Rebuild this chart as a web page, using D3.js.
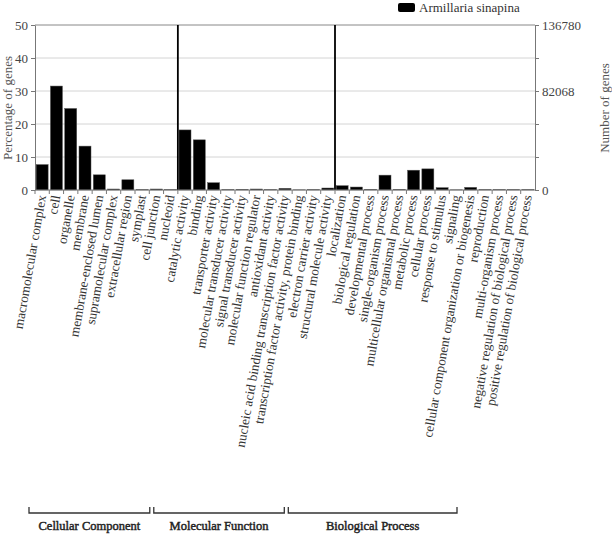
<!DOCTYPE html>
<html>
<head>
<meta charset="utf-8">
<script src="https://cdn.jsdelivr.net/npm/d3@7"></script>
<style>
  body { margin: 0; background: #fff; }
  text { font-family: "Liberation Serif", "DejaVu Serif", serif; fill: #333; }
</style>
</head>
<body>
<div id="chart"></div>
<script>
// GO categories, grouped
var ccTerms = ["macromolecular complex", "cell", "organelle", "membrane", "membrane-enclosed lumen",
  "supramolecular complex", "extracellular region", "symplast", "cell junction", "nucleoid"];
var mfTerms = ["catalytic activity", "binding", "transporter activity", "molecular transducer activity",
  "signal transducer activity", "molecular function regulator", "antioxidant activity",
  "nucleic acid binding transcription factor activity", "transcription factor activity, protein binding",
  "electron carrier activity", "structural molecule activity"];
var bpTerms = ["localization", "biological regulation", "developmental process", "single-organism process",
  "multicellular organismal process", "metabolic process", "cellular process", "response to stimulus",
  "signaling", "cellular component organization or biogenesis", "reproduction", "multi-organism process",
  "negative regulation of biological process", "positive regulation of biological process"];

// percentage of genes
var ccValues = [7.7, 31.5, 24.7, 13.3, 4.6, 0.3, 3.1, 0.1, 0.3, 0.1];
var mfValues = [18.2, 15.2, 2.2, 0.1, 0.2, 0.3, 0.1, 0.5, 0.05, 0.1, 0.6];
var bpValues = [1.3, 0.9, 0.2, 4.5, 0.2, 6.0, 6.4, 0.7, 0.05, 0.8, 0.1, 0.1, 0.1, 0.1];

var groupNames = ["Cellular Component", "Molecular Function", "Biological Process"];
var leftTicks = [0, 10, 20, 30, 40, 50];
var rightMax = 136780;
var rightTicks = [0, 27356, 54712, 82068, 109424, 136780];
var rightLabels = [0, 82068, 136780];
var seriesName = "Armillaria sinapina";

var categories = ccTerms.concat(mfTerms, bpTerms);
var values = ccValues.concat(mfValues, bpValues);
var data = categories.map(function(c, i) { return {term: c, value: values[i]}; });

var width = 612, height = 544;
var plotLeft = 35, plotRight = 535, plotTop = 25, plotBottom = 190;
var font = "Liberation Serif";

var svg = d3.select("#chart").append("svg")
  .attr("width", width)
  .attr("height", height);

var x = d3.scaleBand().domain(categories).range([plotLeft, plotRight]).paddingInner(0.16).paddingOuter(0.08);
var y = d3.scaleLinear().domain([0, 50]).range([plotBottom, plotTop]);
var y2 = d3.scaleLinear().domain([0, rightMax]).range([plotBottom, plotTop]);

//gridlines
svg.append("g").selectAll("line")
  .data(leftTicks.slice(1, 5))
  .enter().append("line")
  .attr("x1", plotLeft).attr("x2", plotRight)
  .attr("y1", function(d) { return y(d); })
  .attr("y2", function(d) { return y(d); })
  .style("stroke", "#d4d4d4")
  .style("stroke-width", 1);

//top border
svg.append("line")
  .attr("x1", plotLeft).attr("x2", plotRight)
  .attr("y1", y(50)).attr("y2", y(50))
  .style("stroke", "#888").style("stroke-width", 1);

//bars
svg.append("g").selectAll("rect")
  .data(data)
  .enter().append("rect")
  .attr("x", function(d) { return x(d.term); })
  .attr("y", function(d) { return y(d.value); })
  .attr("width", x.bandwidth())
  .attr("height", function(d) { return y(0) - y(d.value); })
  .style("fill", "#000")
  .style("stroke", "#555")
  .style("stroke-width", 0.5);

//group separators
var step = x.step();
var sepTerms = [mfTerms[0], bpTerms[0]];
svg.append("g").selectAll("line")
  .data(sepTerms)
  .enter().append("line")
  .attr("x1", function(d) { return x(d) - step * x.paddingInner() / 2; })
  .attr("x2", function(d) { return x(d) - step * x.paddingInner() / 2; })
  .attr("y1", y(50))
  .attr("y2", y(0))
  .style("stroke", "#000")
  .style("stroke-width", 1.8);

//left axis
var yAxis = svg.append("g")
  .attr("transform", "translate(" + plotLeft + ",0)")
  .call(d3.axisLeft(y).tickValues(leftTicks).tickSize(4).tickSizeOuter(0));
yAxis.select(".domain").style("stroke", "#777");
yAxis.selectAll(".tick line").style("stroke", "#777");
yAxis.selectAll("text").style("font-family", font).style("font-size", "13px").style("fill", "#444");

//right axis
var y2Axis = svg.append("g")
  .attr("transform", "translate(" + plotRight + ",0)")
  .call(d3.axisRight(y2).tickValues(rightTicks).tickSize(4).tickSizeOuter(0)
    .tickFormat(function(d) { return rightLabels.indexOf(d) >= 0 ? d : ""; }));
y2Axis.select(".domain").style("stroke", "#777");
y2Axis.selectAll(".tick line").style("stroke", "#777");
y2Axis.selectAll("text").style("font-family", font).style("font-size", "13px").style("fill", "#444");

//x axis with ticks at category boundaries
svg.append("line")
  .attr("x1", plotLeft).attr("x2", plotRight)
  .attr("y1", y(0)).attr("y2", y(0))
  .style("stroke", "#777");
var bounds = categories.map(function(c) { return x(c) - step * x.paddingInner() / 2; });
svg.append("g").selectAll("line")
  .data(bounds)
  .enter().append("line")
  .attr("x1", function(d) { return d; }).attr("x2", function(d) { return d; })
  .attr("y1", y(0)).attr("y2", y(0) + 4)
  .style("stroke", "#777");

//x labels
svg.append("g").selectAll("text")
  .data(categories)
  .enter().append("text")
  .attr("transform", function(d) {
    return "translate(" + (x(d) + x.bandwidth() / 2 + 4) + "," + (y(0) + 6) + ") rotate(-80)";
  })
  .attr("text-anchor", "end")
  .style("font-family", font)
  .style("font-size", "13.3px")
  .style("fill", "#333")
  .text(function(d) { return d; });

//axis titles
svg.append("text")
  .attr("transform", "translate(12," + 108 + ") rotate(-90)")
  .attr("text-anchor", "middle")
  .style("font-family", font)
  .style("font-size", "13px")
  .style("fill", "#555")
  .text("Percentage of genes");

svg.append("text")
  .attr("transform", "translate(609," + 108 + ") rotate(-90)")
  .attr("text-anchor", "middle")
  .style("font-family", font)
  .style("font-size", "13px")
  .style("fill", "#555")
  .text("Number of genes");

//legend
svg.append("rect")
  .attr("x", 398).attr("y", 3)
  .attr("width", 17).attr("height", 9)
  .attr("rx", 2)
  .style("fill", "#000");
svg.append("text")
  .attr("x", 419).attr("y", 12)
  .style("font-family", font)
  .style("font-size", "13px")
  .style("fill", "#333")
  .text(seriesName);

//group brackets
var bx = d3.scaleLinear().domain([0, categories.length]).range([29, 457]);
var groupSizes = [ccTerms.length, mfTerms.length, bpTerms.length];
var groups = [];
var start = 0;
groupSizes.forEach(function(n, i) {
  groups.push({name: groupNames[i], x0: bx(start) + (i > 0 ? 2.5 : 0), x1: bx(start + n) - (i < 2 ? 1.5 : 0)});
  start += n;
});
var bracketY = 513;
svg.append("g").selectAll("path")
  .data(groups)
  .enter().append("path")
  .attr("d", function(d) {
    return "M" + d.x0 + "," + (bracketY - 6) + "V" + bracketY + "H" + d.x1 + "V" + (bracketY - 6);
  })
  .style("fill", "none")
  .style("stroke", "#333")
  .style("stroke-width", 1.3);
svg.append("g").selectAll("text")
  .data(groups)
  .enter().append("text")
  .attr("x", function(d) { return (d.x0 + d.x1) / 2; })
  .attr("y", bracketY + 17)
  .attr("text-anchor", "middle")
  .style("font-family", font)
  .style("font-size", "12.5px")
  .style("fill", "#222")
  .style("stroke", "#222")
  .style("stroke-width", 0.45)
  .text(function(d) { return d.name; });
</script>
</body>
</html>
